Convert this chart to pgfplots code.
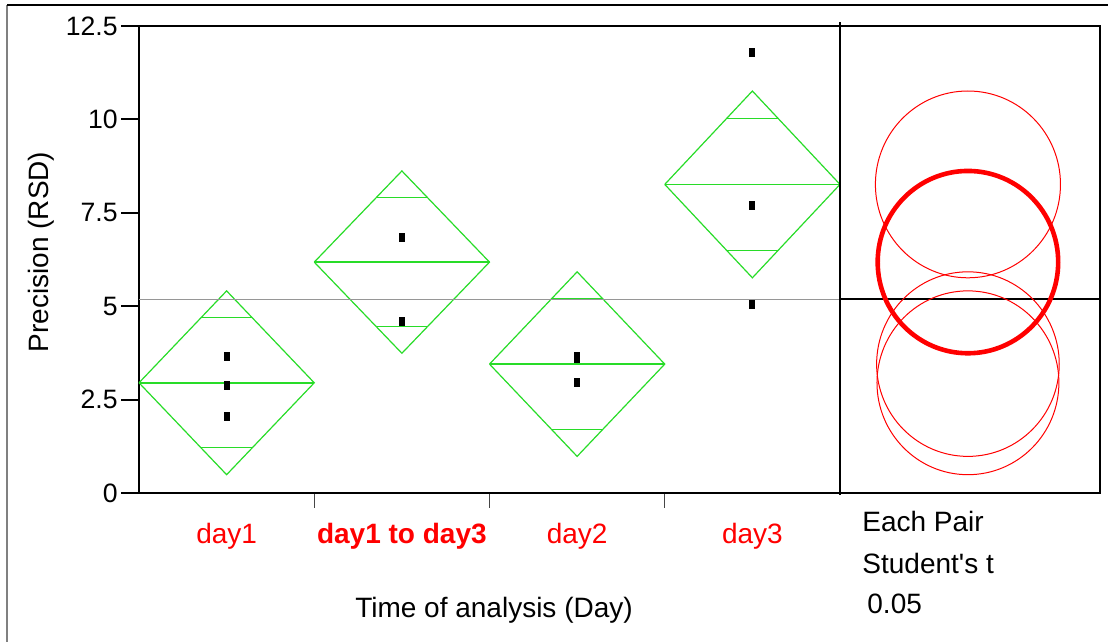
\documentclass[border=0pt]{standalone}
\usepackage{pgfplots}
\pgfplotsset{compat=1.18}
\usepackage{fontspec}
\setmainfont{Liberation Sans}[Ligatures=TeXOff]

\definecolor{jmpgreen}{RGB}{40,220,40}
\definecolor{jmpred}{RGB}{255,0,0}
\definecolor{meangray}{RGB}{150,150,150}
\definecolor{framegray}{RGB}{128,128,128}
\definecolor{tickgray}{RGB}{70,70,70}

\begin{document}
\begin{tikzpicture}
\useasboundingbox (0,0) rectangle (554pt,321pt);
% report frame
\draw[framegray, line width=1pt] (3.5pt,0) -- (3.5pt,318.5pt);
\draw[black, line width=0.7pt] (3.5pt,318.5pt) -- (554pt,318.5pt);

\begin{axis}[
  at={(69.5pt,74.5pt)}, anchor=south west,
  scale only axis, width=480.5pt, height=233.5pt,
  xmin=-0.5, xmax=4.9836, ymin=0, ymax=12.5,
  axis line style={black, line width=0.8pt},
  tick align=outside,
  ytick pos=left, xtick pos=bottom,
  ytick={0,2.5,5,7.5,10,12.5},
  yticklabels={0,2.5,5,7.5,10,12.5},
  major tick length=9pt,
  minor tick length=7.5pt,
  y tick style={black, line width=1pt},
  xtick={0,1,2,3},
  xticklabels={day1,\textbf{day1 to day3},day2,day3},
  minor xtick={0.5,1.5,2.5},
  major x tick style={draw=none},
  minor x tick style={draw=tickgray, line width=0.6pt},
  yticklabel style={font=\fontsize{13.3}{15}\selectfont, inner sep=0pt, xshift=-1.5pt},
  xticklabel style={font=\fontsize{14}{16}\selectfont, text=jmpred, anchor=base, inner sep=0pt, yshift=-16pt},
  /pgf/number format/assume math mode=true,
  clip=false,
]

% individual measurements
\addplot[only marks, mark=square*, mark size=2pt,
  mark options={xscale=0.625, draw=none, fill=black}] coordinates {
  (0,3.66) (0,2.89) (0,2.06)
  (1,6.85) (1,4.58)
  (2,3.65) (2,3.59) (2,2.96)
  (3,11.80) (3,7.70) (3,5.05)
};

% means diamonds: mean +/- 95% CI
\addplot[jmpgreen, line width=0.6pt] coordinates {(-0.5,2.95) (0,5.41) (0.5,2.95) (0,0.49) (-0.5,2.95)};
\addplot[jmpgreen, line width=0.6pt] coordinates {(0.5,6.18) (1,8.62) (1.5,6.18) (1,3.74) (0.5,6.18)};
\addplot[jmpgreen, line width=0.6pt] coordinates {(1.5,3.45) (2,5.92) (2.5,3.45) (2,0.98) (1.5,3.45)};
\addplot[jmpgreen, line width=0.6pt] coordinates {(2.5,8.26) (3,10.76) (3.5,8.26) (3,5.76) (2.5,8.26)};

% group means
\addplot[jmpgreen, line width=0.8pt] coordinates {(-0.5,2.95) (0.5,2.95)};
\addplot[jmpgreen, line width=0.8pt] coordinates {(0.5,6.18) (1.5,6.18)};
\addplot[jmpgreen, line width=0.8pt] coordinates {(1.5,3.45) (2.5,3.45)};
\addplot[jmpgreen, line width=0.8pt] coordinates {(2.5,8.26) (3.5,8.26)};

% overlap marks
\addplot[jmpgreen, line width=0.6pt] coordinates {(-0.146,4.69) (0.146,4.69)};
\addplot[jmpgreen, line width=0.6pt] coordinates {(-0.146,1.21) (0.146,1.21)};
\addplot[jmpgreen, line width=0.6pt] coordinates {(0.854,7.91) (1.146,7.91)};
\addplot[jmpgreen, line width=0.6pt] coordinates {(0.854,4.45) (1.146,4.45)};
\addplot[jmpgreen, line width=0.6pt] coordinates {(1.854,5.20) (2.146,5.20)};
\addplot[jmpgreen, line width=0.6pt] coordinates {(1.854,1.70) (2.146,1.70)};
\addplot[jmpgreen, line width=0.6pt] coordinates {(2.854,10.03) (3.146,10.03)};
\addplot[jmpgreen, line width=0.6pt] coordinates {(2.854,6.49) (3.146,6.49)};

% grand mean
\addplot[meangray, line width=0.5pt] coordinates {(-0.5,5.19) (3.5,5.19)};
\addplot[black, line width=0.6pt] coordinates {(3.5,5.19) (4.9836,5.19)};

% panel divider
\addplot[black, line width=0.6pt] coordinates {(3.5,-0.05) (3.5,12.6)};

% comparison circles
\draw[jmpred, line width=0.5pt] (axis cs:4.23,8.26) ellipse [x radius=0.528, y radius=2.50];
\draw[jmpred, line width=0.5pt] (axis cs:4.23,3.45) ellipse [x radius=0.521, y radius=2.47];
\draw[jmpred, line width=0.5pt] (axis cs:4.23,2.95) ellipse [x radius=0.519, y radius=2.46];
\draw[jmpred, line width=2.3pt] (axis cs:4.23,6.18) ellipse [x radius=0.515, y radius=2.44];
\end{axis}

\node[rotate=90, font=\fontsize{14}{16}\selectfont] at (20.5pt,195pt) {Precision (RSD)};
\node[font=\fontsize{14}{16}\selectfont] at (247pt,16pt) {Time of analysis (Day)};
\node[anchor=west, inner sep=0pt, font=\fontsize{14}{16}\selectfont] at (431pt,60.5pt) {Each Pair};
\node[anchor=west, inner sep=0pt, font=\fontsize{14}{16}\selectfont] at (431pt,39.5pt) {Student's t};
\node[anchor=west, inner sep=0pt, font=\fontsize{14}{16}\selectfont] at (433.5pt,19pt) {0.05};
\end{tikzpicture}
\end{document}
